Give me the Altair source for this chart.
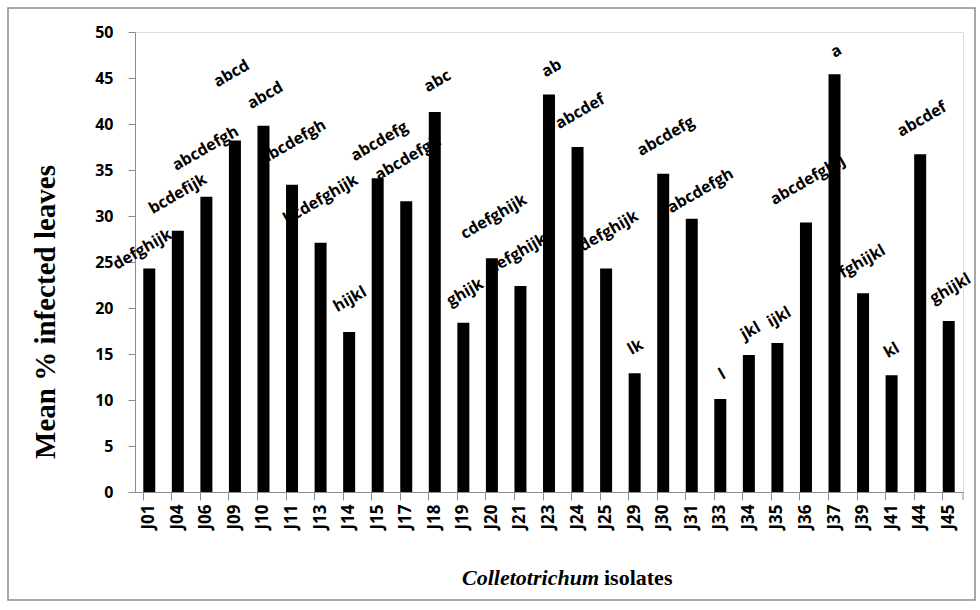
import altair as alt
import pandas as pd

# Isolates and mean percentage of infected leaves
isolates = ["J01", "J04", "J06", "J09", "J10", "J11", "J13", "J14", "J15", "J17",
            "J18", "J19", "J20", "J21", "J23", "J24", "J25", "J29", "J30", "J31",
            "J33", "J34", "J35", "J36", "J37", "J39", "J41", "J44", "J45"]
infection = [24.3, 28.4, 32.1, 38.2, 39.8, 33.4, 27.1, 17.4, 34.1, 31.6,
             41.3, 18.4, 25.4, 22.4, 43.2, 37.5, 24.3, 12.9, 34.6, 29.7,
             10.1, 14.9, 16.2, 29.3, 45.4, 21.6, 12.7, 36.7, 18.6]
# Mean-separation letters
groups = ["defghijk", "bcdefijk", "abcdefgh", "abcd", "abcd", "abcdefgh", "bcdefghijk",
          "hijkl", "abcdefg", "abcdefgh", "abc", "ghijk", "cdefghijk", "defghijk", "ab",
          "abcdef", "defghijk", "lk", "abcdefg", "abcdefgh", "l", "jkl", "ijkl",
          "abcdefghij", "a", "fghijkl", "kl", "abcdef", "ghijkl"]
y_ticks = [0, 5, 10, 15, 20, 25, 30, 35, 40, 45, 50]

# Letter placement (height in axis units, horizontal nudge in px)
label_y = [26.8, 32.4, 37.4, 45.7, 43.0, 38.0, 31.8, 20.9, 38.0, 36.2,
           44.5, 21.6, 29.8, 26.1, 45.9, 41.2, 28.2, 15.7, 38.5, 32.2,
           12.7, 17.4, 18.9, 33.8, 47.8, 25.1, 15.4, 40.4, 22.0]
label_dx = [-8, 0, -1, -4, 2, 1, 0, 1, 2, 2, 3, 2, 2, -4, 3, 3, 3, 1, 3, 10,
            2, 2, 2, 2, 2, -1, 0, 2, 2]

df = pd.DataFrame({"isolate": isolates, "mean_pct": infection, "group": groups,
                   "label_y": label_y, "label_dx": label_dx})

GRAY = "#8c8c8c"
SERIF = "'Liberation Serif', 'Times New Roman', 'DejaVu Serif', serif"
W, H = 828, 460
x_scale = alt.Scale(domain=isolates, paddingInner=0.58, paddingOuter=0.29)
y_scale = alt.Scale(domain=[0, 50], nice=False)
y_axis = alt.Axis(values=y_ticks, domainColor=GRAY, tickColor=GRAY, tickSize=7,
                  labelFont="Open Sans", labelFontWeight="bold", labelFontSize=16,
                  labelColor="black", labelPadding=15, title=None, grid=False)
one = alt.Data(values=[{}])

frame = alt.Chart(one).mark_rect(fillOpacity=0, stroke=GRAY, strokeWidth=1.5).encode(
    x=alt.value(-127), x2=alt.value(840), y=alt.value(-24), y2=alt.value(568))

letters = alt.Chart(df).mark_text(
    font="Open Sans", fontWeight="bold", fontSize=16, angle=330, align="center",
    baseline="middle", color="black", dx=alt.ExprRef(expr="datum.label_dx")
).encode(
    x=alt.X("isolate:N", scale=x_scale, sort=isolates,
            axis=alt.Axis(orient="bottom", bandPosition=0, labels=False, domain=False,
                          ticks=True, tickSize=8, tickColor=GRAY, title=None, grid=False)),
    y=alt.Y("label_y:Q", scale=y_scale, axis=y_axis),
    text="group:N")

bars = alt.Chart(df).mark_bar(color="black").encode(
    x=alt.X("isolate:N", scale=x_scale, sort=isolates,
            axis=alt.Axis(orient="bottom", ticks=False, domainColor=GRAY, labelAngle=-90,
                          labelFont="Open Sans", labelFontWeight="bold", labelFontSize=17,
                          labelColor="black", labelPadding=12, title=None, grid=False)),
    y=alt.Y("mean_pct:Q", scale=y_scale, axis=y_axis))

end_tick = alt.Chart(one).mark_rule(color=GRAY).encode(
    x=alt.value(W), y=alt.value(H), y2=alt.value(H + 8))

y_title = alt.Chart(one).mark_text(
    font=SERIF, fontWeight="bold", fontSize=29, angle=270,
    align="center", baseline="middle", color="black", text="Mean % infected leaves"
).encode(x=alt.value(-89), y=alt.value(280))

x_title_it = alt.Chart(one).mark_text(
    font=SERIF, fontWeight="bold", fontStyle="italic", fontSize=22,
    align="right", baseline="middle", color="black", text="Colletotrichum"
).encode(x=alt.value(464), y=alt.value(546))

x_title_rest = alt.Chart(one).mark_text(
    font=SERIF, fontWeight="bold", fontSize=22,
    align="left", baseline="middle", color="black", text="isolates"
).encode(x=alt.value(469), y=alt.value(546))

chart = alt.layer(frame, letters, bars, end_tick, y_title, x_title_it, x_title_rest).resolve_axis(
    x="independent"
).properties(
    width=W, height=H, autosize="none",
    padding={"left": 135, "top": 32, "right": 17, "bottom": 118}
).configure_view(stroke=None).configure(background="white")

chart.save("out.html", embed_options={"renderer": "svg", "actions": False})
